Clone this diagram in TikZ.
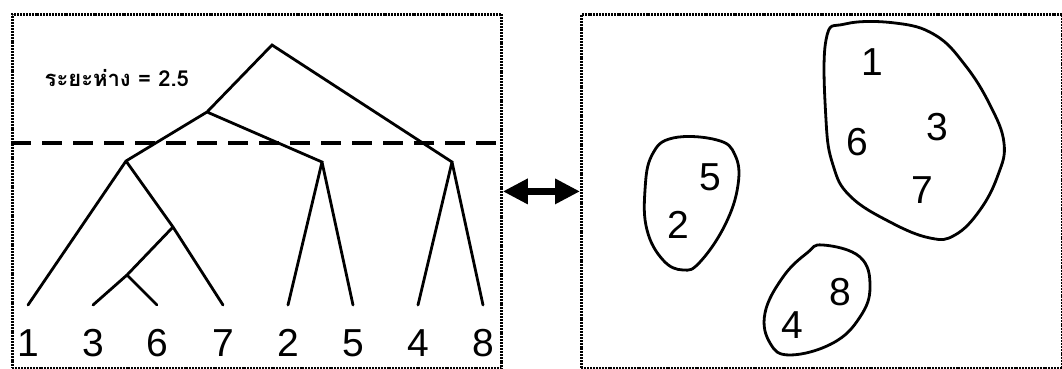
\documentclass[tikz,border=0pt]{standalone}
\usepackage{fontspec}
\setmainfont{Liberation Sans}
\newfontfamily\thaifont[Script=Thai]{Loma}
\usetikzlibrary{arrows.meta}

\begin{document}
\begin{tikzpicture}[x=1pt, y=-1pt, line width=2.8pt, line cap=round,
  num/.style={font=\fontsize{39}{39}\selectfont, inner sep=0pt},
  frame/.style={draw, line width=2.8pt, dash pattern=on 2pt off .9pt,
    line cap=butt, minimum width=489pt, minimum height=354pt, anchor=north west}]
\useasboundingbox (0, 0) rectangle (1062, 369);
\node [frame] (tree) at (11, 13) {};
\node [frame, minimum width=481pt] (groups) at (580, 13) {};
% dendrogram: inner joins, then leaf tips and numbers
\coordinate (r) at (272, 45);   \coordinate (a) at (207, 112);
\coordinate (b) at (126, 161);  \coordinate (c) at (173, 227);
\coordinate (d) at (127, 275);  \coordinate (e) at (322, 162);
\coordinate (f) at (452, 162);
\foreach \n/\x in {1/28, 3/93, 6/157, 7/223, 2/288, 5/353, 4/418, 8/483} {
  \coordinate (t\n) at (\x, 305);
  \node [num] (n\n) at (\x, 343) {\n};
}
\draw (t1) -- (b) -- (a) -- (r) -- (f) -- (t4) (f) -- (t8)
  (b) -- (c) -- (t7) (c) -- (d) -- (t3) (d) -- (t6)
  (a) -- (e) -- (t2) (e) -- (t5);
\draw [line width=4pt, line cap=butt, dash pattern=on 20pt off 11pt]
  (tree.west |- 0, 143) -- (tree.east |- 0, 143);
\node [font=\thaifont\bfseries\fontsize{22}{22}\selectfont, anchor=west]
  (cut) at (40, 78) {ระยะห่าง = 2.5};
\draw [line width=7pt, line cap=butt,
  {Triangle[length=25pt, width=24pt]}-{Triangle[length=25pt, width=24pt]}]
  (tree.east) -- (groups.west);
% the three groups
\draw plot [smooth cycle, tension=.7] coordinates {(826, 40) (845, 24)
  (895, 23) (935, 35) (965, 65) (990, 105) (1004, 143) (998, 175) (980, 210)
  (955, 235) (930, 238) (890, 222) (850, 196) (833, 165) (826, 120)};
\draw plot [smooth cycle, tension=.7] coordinates {(652, 155) (673, 138)
  (717, 140) (735, 155) (738, 185) (725, 225) (700, 262) (683, 270)
  (663, 260) (647, 230) (645, 190)};
\draw plot [smooth cycle, tension=.7] coordinates {(823, 245) (860, 257)
  (870, 287) (860, 317) (833, 343) (790, 355) (770, 343) (765, 313)
  (783, 277) (807, 253)};
\node [num] (g1) at (872, 62) {1};  \node [num] (g6) at (857, 142) {6};
\node [num] (g3) at (937, 127) {3}; \node [num] (g7) at (922, 190) {7};
\node [num] (g5) at (710, 177) {5}; \node [num] (g2) at (678, 225) {2};
\node [num] (g8) at (840, 292) {8}; \node [num] (g4) at (792, 325) {4};
\end{tikzpicture}
\end{document}
